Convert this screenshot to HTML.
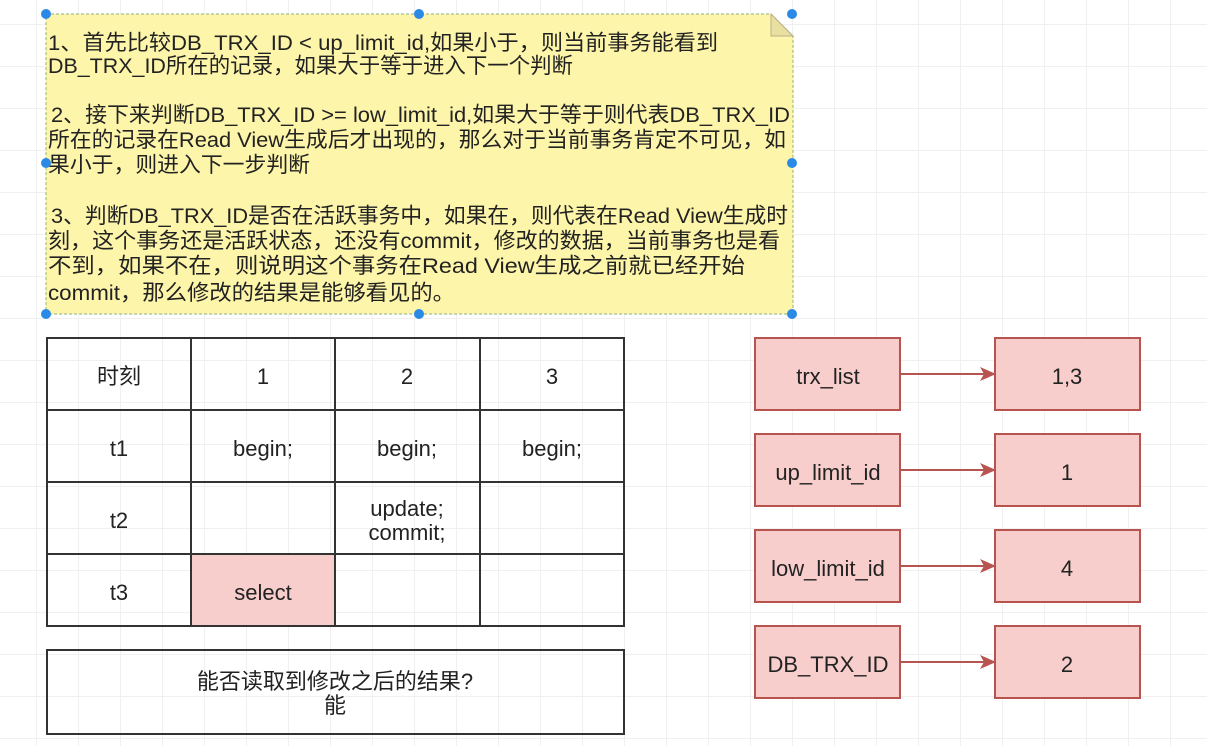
<!DOCTYPE html>
<html><head><meta charset="utf-8"><style>
html,body{margin:0;padding:0;}
body{width:1207px;height:746px;overflow:hidden;background:#fff;
background-image:linear-gradient(#f0f0f0 1px,transparent 1px),linear-gradient(90deg,#f0f0f0 1px,transparent 1px);
background-size:42px 42px;background-position:-6px 24px;font-family:"Liberation Sans","Noto Sans CJK SC",sans-serif;}
svg{position:absolute;left:0;top:0;}
text{font-family:"Liberation Sans","Noto Sans CJK SC",sans-serif;fill:#222;}
</style></head><body>
<svg width="1207" height="746" viewBox="0 0 1207 746">
<defs><marker id="a" markerWidth="16" markerHeight="16" refX="15" refY="8" orient="auto" markerUnits="userSpaceOnUse"><path d="M0,1 L16,8 L0,15 L4,8 Z" fill="#b85450"/></marker></defs>
<path d="M46,14 L771,14 L793,36 L793,314 L46,314 Z" fill="#fdf5a9" stroke="#8fae7a" stroke-width="1" stroke-dasharray="3,2"/>
<path d="M771,14 L771,36 L793,36 Z" fill="#e8e0a0" stroke="#b8b08a"/>
<g font-size="21.5" lengthAdjust="spacingAndGlyphs">
<text x="48" y="50" textLength="670" lengthAdjust="spacingAndGlyphs">1、首先比较DB_TRX_ID &lt; up_limit_id,如果小于，则当前事务能看到</text>
<text x="48" y="73" textLength="525" lengthAdjust="spacingAndGlyphs">DB_TRX_ID所在的记录，如果大于等于进入下一个判断</text>
<text x="51" y="122" textLength="739" lengthAdjust="spacingAndGlyphs">2、接下来判断DB_TRX_ID &gt;= low_limit_id,如果大于等于则代表DB_TRX_ID</text>
<text x="48" y="147" textLength="738" lengthAdjust="spacingAndGlyphs">所在的记录在Read View生成后才出现的，那么对于当前事务肯定不可见，如</text>
<text x="48" y="172" textLength="262" lengthAdjust="spacingAndGlyphs">果小于，则进入下一步判断</text>
<text x="51" y="223" textLength="737" lengthAdjust="spacingAndGlyphs">3、判断DB_TRX_ID是否在活跃事务中，如果在，则代表在Read View生成时</text>
<text x="48" y="248" textLength="732" lengthAdjust="spacingAndGlyphs">刻，这个事务还是活跃状态，还没有commit，修改的数据，当前事务也是看</text>
<text x="48" y="273" textLength="697" lengthAdjust="spacingAndGlyphs">不到，如果不在，则说明这个事务在Read View生成之前就已经开始</text>
<text x="48" y="300" textLength="407" lengthAdjust="spacingAndGlyphs">commit，那么修改的结果是能够看见的。</text>
</g>
<g fill="#2b8ae6"><circle cx="46" cy="14" r="5"/><circle cx="419" cy="14" r="5"/><circle cx="792" cy="14" r="5"/><circle cx="46" cy="163" r="5"/><circle cx="792" cy="163" r="5"/><circle cx="46" cy="314" r="5"/><circle cx="419" cy="314" r="5"/><circle cx="792" cy="314" r="5"/></g>
<rect x="191" y="554" width="144" height="72" fill="#f8cecc"/>
<g stroke="#333" stroke-width="2" fill="none">
<rect x="47" y="338" width="577" height="288"/>
<line x1="191" y1="338" x2="191" y2="626"/><line x1="335" y1="338" x2="335" y2="626"/><line x1="480" y1="338" x2="480" y2="626"/>
<line x1="47" y1="410" x2="624" y2="410"/><line x1="47" y1="482" x2="624" y2="482"/><line x1="47" y1="554" x2="624" y2="554"/>
<rect x="47" y="650" width="577" height="84"/>
</g>
<g font-size="22" text-anchor="middle">
<text x="119" y="384">时刻</text><text x="263" y="384">1</text><text x="407" y="384">2</text><text x="552" y="384">3</text>
<text x="119" y="456">t1</text><text x="263" y="456">begin;</text><text x="407" y="456">begin;</text><text x="552" y="456">begin;</text>
<text x="119" y="528">t2</text><text x="407" y="516">update;</text><text x="407" y="540">commit;</text>
<text x="119" y="600">t3</text><text x="263" y="600">select</text>
<text x="335" y="689">能否读取到修改之后的结果?</text><text x="335" y="713">能</text>
</g>
<g fill="#f8cecc" stroke="#b85450" stroke-width="2">
<rect x="755" y="338" width="145" height="72"/><rect x="995" y="338" width="145" height="72"/>
<rect x="755" y="434" width="145" height="72"/><rect x="995" y="434" width="145" height="72"/>
<rect x="755" y="530" width="145" height="72"/><rect x="995" y="530" width="145" height="72"/>
<rect x="755" y="626" width="145" height="72"/><rect x="995" y="626" width="145" height="72"/>
</g>
<g stroke="#b85450" stroke-width="2" marker-end="url(#a)">
<line x1="900" y1="374" x2="995" y2="374"/><line x1="900" y1="470" x2="995" y2="470"/>
<line x1="900" y1="566" x2="995" y2="566"/><line x1="900" y1="662" x2="995" y2="662"/>
</g>
<g font-size="22" text-anchor="middle">
<text x="828" y="384">trx_list</text><text x="1067" y="384">1,3</text>
<text x="828" y="480">up_limit_id</text><text x="1067" y="480">1</text>
<text x="828" y="576">low_limit_id</text><text x="1067" y="576">4</text>
<text x="828" y="672">DB_TRX_ID</text><text x="1067" y="672">2</text>
</g>
</svg>
</body></html>
